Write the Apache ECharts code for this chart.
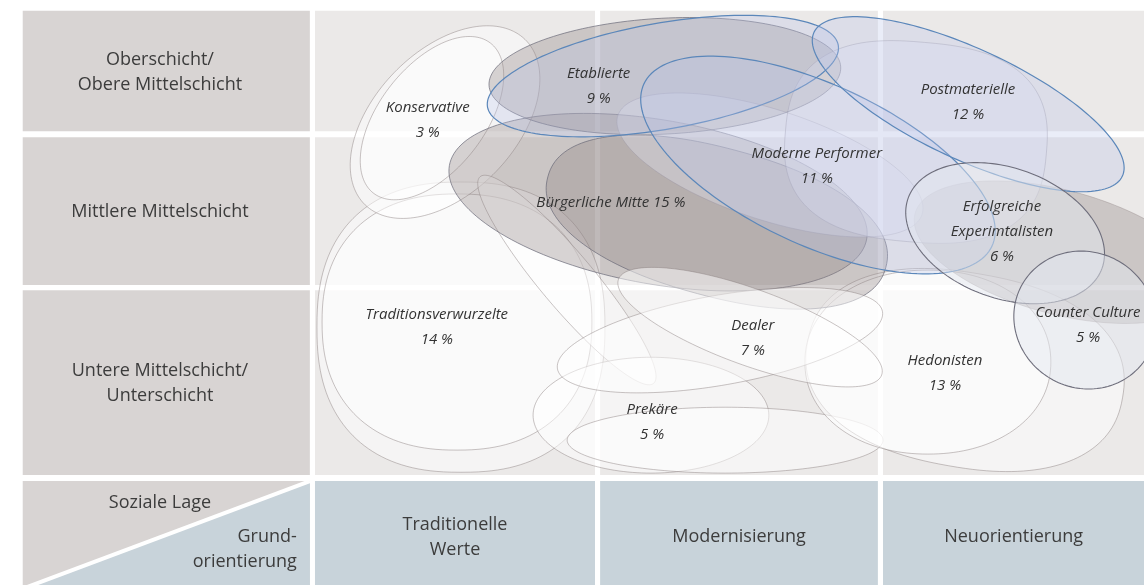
<!DOCTYPE html>
<html><head><meta charset="utf-8">
<script src="https://cdn.jsdelivr.net/npm/echarts@6/dist/echarts.min.js"></script>
<style>html,body{margin:0;padding:0;background:#fff;}#c{width:1144px;height:585px;}</style>
</head><body><div id="c"></div>
<script>
// Axis units: one Grundorientierung column = 100 units (x), same scale on y (Soziale Lage)
const rowLabels = ['Oberschicht/\nObere Mittelschicht', 'Mittlere Mittelschicht', 'Untere Mittelschicht/\nUnterschicht'];
const rowRanges = [[121.1, 163.5], [66.9, 119.0], [0, 65.1]];
const colLabels = ['Traditionelle\nWerte', 'Modernisierung', 'Neuorientierung'];
const colRanges = [[0, 98.6], [100.4, 198.2], [200, 292]];
const labelColRange = [-102.9, -1.8];
const orientRowRange = [-40, -2.1];
const cornerTop = 'Soziale Lage';
const cornerBottom = 'Grund-\norientierung';

// Milieus: name, share (%), label anchor
const milieuNames = ['Konservative', 'Etablierte', 'Postmaterielle', 'Moderne Performer', 'Bürgerliche Mitte',
  'Erfolgreiche\nExperimtalisten', 'Traditionsverwurzelte', 'Dealer', 'Counter Culture', 'Hedonisten', 'Prekäre'];
const milieuShares = [3, 9, 12, 11, 15, 6, 14, 7, 5, 13, 5];
const milieuInline = [false, false, false, false, true, false, false, false, false, false, false];
const milieuLabelX = [39.7, 99.9, 229.9, 176.7, 104.2, 241.9, 42.9, 154.2, 272.2, 221.8, 118.7];
const milieuLabelY = [125.0, 136.8, 131.3, 108.8, 95.8, 85.6, 52.1, 48.2, 52.8, 35.9, 18.7];

// Milieu outlines (drawing order): centre, half-axes, tilt (deg), roundness, group
const outlineCX   = [51.4, 50.0, 45.8, 41.2, 88.7, 118.3, 144.4, 228.9, 215.8, 120.8, 141.5, 262.3, 123.2, 142.6, 153.2, 160.2, 211.6, 122.5, 177.1, 230.0, 243.0, 271.1];
const outlineCY   = [52.1, 53.9, 124.3, 125.7, 68.7, 21.1, 12.3, 37.0, 39.8, 96.1, 89.1, 78.5, 140.5, 47.5, 52.1, 109.2, 117.3, 140.5, 109.2, 130.6, 85.2, 54.6];
const outlineRX   = [50.7, 47.5, 40.5, 33.5, 47.5, 41.5, 55.6, 56.3, 43.3, 74.6, 61.6, 52.8, 62.0, 58.1, 49.3, 56.3, 46.1, 62.7, 67.6, 59.9, 36.3, 25.4];
const outlineRY   = [51.1, 45.1, 25.0, 18.5, 9.5, 20.4, 11.6, 34.2, 32.4, 28.9, 26.1, 21.8, 20.4, 15.8, 13.4, 19.4, 35.2, 18.7, 28.2, 19.4, 22.9, 23.9];
const outlineTilt = [0, 0, 46, 52, -50, 0, 0, -10, 0, -10, -15, -15, 3, 10, -20, -18, -5, 10, -25, -25, -20, -30];
const outlineRound= [2.4, 2.3, 2, 2, 2, 2, 2, 2.3, 2.1, 2, 2.2, 2, 2, 2, 2, 2, 2.6, 2, 2, 2, 2, 2];
const outlineGroup= ['light','light','light','light','light','light','light','light','light','taupe','taupe','taupeSoft','taupe','light','light','lavender','lavender','blue','blue','blue','slate','slate'];

const GROUP_STYLE = {
  light:     {fill: 'rgba(255,255,255,0.5)',  stroke: 'rgba(135,125,125,0.45)', lineWidth: 1},
  taupe:     {fill: 'rgba(140,128,128,0.33)', stroke: 'rgba(105,105,120,0.7)',  lineWidth: 1},
  taupeSoft: {fill: 'rgba(140,128,128,0.33)', stroke: 'rgba(140,130,130,0.35)', lineWidth: 1},
  lavender:  {fill: 'rgba(228,230,243,0.35)', stroke: 'rgba(150,145,160,0.4)',  lineWidth: 1},
  blue:      {fill: 'rgba(185,195,232,0.3)',  stroke: '#5b87ba',                lineWidth: 1.2},
  slate:     {fill: 'rgba(228,232,240,0.5)',  stroke: '#6e6e7c',                lineWidth: 1.1}
};
const AXIS_FONT = {fontSize: 18, fontFamily: '"Open Sans", sans-serif', fontWeight: 400, fill: '#3c3c3c', lineHeight: 25};
const MILIEU_FONT = {fontSize: 15, fontFamily: '"Open Sans", sans-serif', fontStyle: 'italic', fontWeight: 400, fill: '#333333', lineHeight: 25};

const plotCells = [];
rowRanges.forEach(r => colRanges.forEach(c => plotCells.push([c[0], r[0], c[1], r[1]])));
const rowCells = rowRanges.map((r, i) => [labelColRange[0], r[0], labelColRange[1], r[1], i]);
const colCells = colRanges.map((c, i) => [c[0], orientRowRange[0], c[1], orientRowRange[1], i]);
const cornerCells = [[labelColRange[0], orientRowRange[0], labelColRange[1], orientRowRange[1]]];
const outlineData = outlineCX.map((v, i) => [v, outlineCY[i], outlineRX[i], outlineRY[i], outlineTilt[i], outlineRound[i]]);
const labelData = milieuLabelX.map((v, i) => [v, milieuLabelY[i]]);

function rectOf(api) {
  const p0 = api.coord([api.value(0), api.value(3)]);
  const p1 = api.coord([api.value(2), api.value(1)]);
  return {x: p0[0], y: p0[1], width: p1[0] - p0[0], height: p1[1] - p0[1]};
}

const chart = echarts.init(document.getElementById('c'));
chart.setOption({
  animation: false,
  backgroundColor: '#ffffff',
  grid: {left: 0, right: 0, top: 0, bottom: 0},
  xAxis: {type: 'value', min: -110.9, max: 291.9, show: false},
  yAxis: {type: 'value', min: -38.7, max: 167.3, show: false},
  series: [
    { type: 'custom', z: 1, clip: false, encode: {x: [0, 2], y: [1, 3]}, data: plotCells,
      renderItem: (p, api) => ({type: 'rect', shape: rectOf(api), style: {fill: '#ebe9e8'}}) },
    { type: 'custom', z: 1, clip: false, encode: {x: [0, 2], y: [1, 3]}, data: rowCells,
      renderItem: (p, api) => {
        const r = rectOf(api);
        return {type: 'group', children: [
          {type: 'rect', shape: r, style: {fill: '#d8d4d3'}},
          {type: 'text', style: Object.assign({text: rowLabels[api.value(4)], x: r.x + r.width * 0.478, y: r.y + r.height / 2 + 1,
            align: 'center', verticalAlign: 'middle'}, AXIS_FONT)}
        ]};
      } },
    { type: 'custom', z: 1, clip: false, encode: {x: [0, 2], y: [1, 3]}, data: colCells,
      renderItem: (p, api) => {
        const r = rectOf(api);
        return {type: 'group', children: [
          {type: 'rect', shape: r, style: {fill: '#c8d3da'}},
          {type: 'text', style: Object.assign({text: colLabels[api.value(4)], x: r.x + r.width / 2, y: r.y + 56,
            align: 'center', verticalAlign: 'middle'}, AXIS_FONT)}
        ]};
      } },
    { type: 'custom', z: 1, clip: false, encode: {x: [0, 2], y: [1, 3]}, data: cornerCells,
      renderItem: (p, api) => {
        const r = rectOf(api);
        const bl = [r.x, r.y + r.height], tr = [r.x + r.width, r.y], br = [r.x + r.width, r.y + r.height];
        return {type: 'group', children: [
          {type: 'rect', shape: r, style: {fill: '#d8d4d3'}},
          {type: 'polygon', shape: {points: [bl, br, tr]}, style: {fill: '#c8d3da'}},
          {type: 'line', shape: {x1: bl[0], y1: bl[1], x2: tr[0], y2: tr[1]}, style: {stroke: '#ffffff', lineWidth: 4}},
          {type: 'text', style: Object.assign({text: cornerTop, x: r.x + r.width * 0.478, y: r.y + 22,
            align: 'center', verticalAlign: 'middle'}, AXIS_FONT)},
          {type: 'text', style: Object.assign({text: cornerBottom, x: r.x + r.width - 13, y: r.y + 68,
            align: 'right', verticalAlign: 'middle'}, AXIS_FONT)}
        ]};
      } },
    { type: 'custom', z: 2, clip: false, encode: {x: 0, y: 1}, data: outlineData,
      renderItem: (p, api) => {
        const c = api.coord([api.value(0), api.value(1)]);
        const s = api.size([api.value(2), api.value(3)]);
        const rot = api.value(4) * Math.PI / 180, n = api.value(5);
        const pts = [];
        const N = 160;
        for (let i = 0; i < N; i++) {
          const t = 2 * Math.PI * i / N, ct = Math.cos(t), st = Math.sin(t);
          const x = s[0] * Math.sign(ct) * Math.pow(Math.abs(ct), 2 / n);
          const y = s[1] * Math.sign(st) * Math.pow(Math.abs(st), 2 / n);
          const xr = x * Math.cos(rot) - y * Math.sin(rot);
          const yr = x * Math.sin(rot) + y * Math.cos(rot);
          pts.push([c[0] + xr, c[1] - yr]);
        }
        return {type: 'polygon', shape: {points: pts}, style: Object.assign({}, GROUP_STYLE[outlineGroup[p.dataIndex]])};
      } },
    { type: 'custom', z: 3, clip: false, encode: {x: 0, y: 1}, data: labelData,
      renderItem: (p, api) => {
        const c = api.coord([api.value(0), api.value(1)]);
        const i = p.dataIndex;
        const txt = milieuNames[i] + (milieuInline[i] ? ' ' : '\n') + milieuShares[i] + ' %';
        return {type: 'text', style: Object.assign({text: txt, x: c[0], y: c[1], align: 'center', verticalAlign: 'middle'}, MILIEU_FONT)};
      } }
  ]
});
</script></body></html>
